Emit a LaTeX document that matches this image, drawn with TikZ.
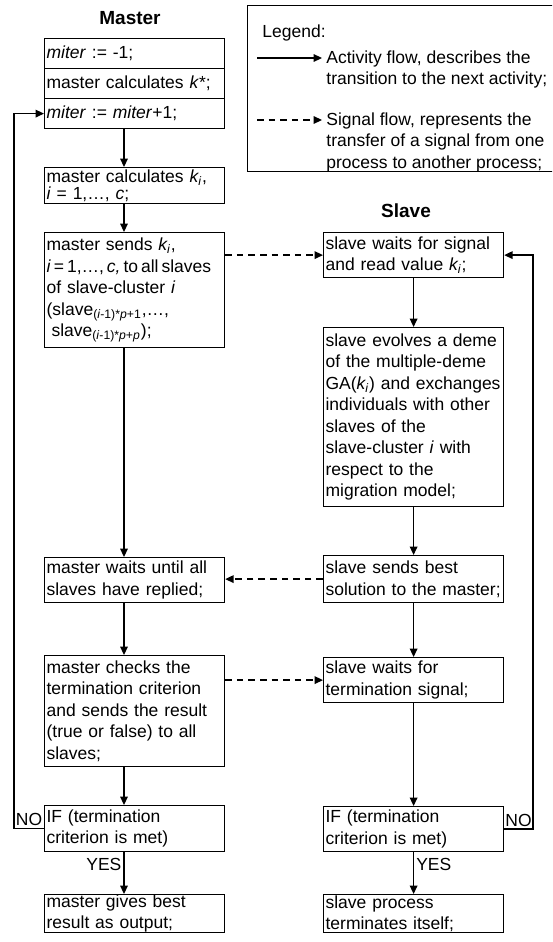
\documentclass[tikz,border=0pt]{standalone}
\usepackage{fontspec}
\setmainfont{Liberation Sans}
\usetikzlibrary{arrows.meta,positioning}

\begin{document}
\begin{tikzpicture}[x=0.5pt,y=-0.5pt,font=\fontsize{8.75pt}{10.75pt}\selectfont,
  >={Triangle[length=4.2pt,width=3.8pt]},
  box/.style={draw,line width=0.6pt,anchor=north west,text width=88pt,inner xsep=1pt,inner ysep=0pt,align=left},
  ttl/.style={font=\fontsize{9.5pt}{11pt}\selectfont\bfseries},
  flow/.style={->,line width=0.65pt},
  sig/.style={->,line width=0.65pt,dash pattern=on 3.3pt off 2.5pt},
  lbl/.style={inner sep=1pt}]
  \useasboundingbox (0,0) rectangle (552,942);
  \clip (0,0) rectangle (552,942);

  \node[ttl] (mttl) at (130,18) {Master};
  \node[box,minimum height=15pt] (m1) at (44,38) {\textit{miter} := -1;};
  \node[box,minimum height=15pt] (m2) at (44,68) {master calculates \textit{k}*;};
  \node[box,minimum height=15pt] (m3) at (44,98) {\textit{miter} := \textit{miter}+1;};
  \node[box,minimum height=18pt] (m4) at (44,167) {master calculates \textit{k\textsubscript{i}},\\[-2.5pt]\textit{i} = 1,…, \textit{c};};
  \node[box,minimum height=57.5pt] (m5) at (44,232) {master sends \textit{k\textsubscript{i}},\\\mbox{\spaceskip=0.17em\relax\textit{i} = 1,…, \textit{c,} to all slaves}\\of slave-cluster \textit{i}\\(slave\textsubscript{(\textit{i}-1)*\textit{p}+1},…,\\\hspace*{0.28em}slave\textsubscript{(\textit{i}-1)*\textit{p}+\textit{p}});};
  \node[box,minimum height=22.5pt] (m6) at (44,557) {master waits until all\\slaves have replied;};
  \node[box,minimum height=55.5pt] (m7) at (44,655) {master checks the\\termination criterion\\and sends the result\\(true or false) to all\\slaves;};
  \node[box,minimum height=23pt] (m8) at (44,805) {IF (termination\\criterion is met)};
  \node[box,minimum height=19pt] (m9) at (44,894) {master gives best\\result as output;};

  \node[ttl] (sttl) at (406,211) {Slave};
  \node[box,minimum height=22.5pt] (s1) at (323,232) {slave waits for signal\\and read value \textit{k\textsubscript{i}};};
  \node[box,minimum height=89.5pt] (s2) at (323,327) {slave evolves a deme\\of the multiple-deme\\GA(\textit{k\textsubscript{i}}) and exchanges\\individuals with other\\slaves of the\\slave-cluster \textit{i} with\\respect to the\\migration model;};
  \node[box,minimum height=23.5pt] (s3) at (323,555) {slave sends best\\solution to the master;};
  \node[box,minimum height=22.5pt] (s4) at (323,657) {slave waits for\\termination signal;};
  \node[box,minimum height=22.5pt] (s5) at (323,806) {IF (termination\\criterion is met)};
  \node[box,minimum height=19pt] (s6) at (323,894) {slave process\\terminates itself;};

  \coordinate (mx) at (124,0);
  \coordinate (lm) at (14,0);
  \coordinate (ls) at (533,0);

  \draw[flow] (m3.south -| mx) -- (m4.north -| mx);
  \draw[flow] (m4.south -| mx) -- (m5.north -| mx);
  \draw[flow] (m5.south -| mx) -- (m6.north -| mx);
  \draw[flow] (m6.south -| mx) -- (m7.north -| mx);
  \draw[flow] (m7.south -| mx) -- (m8.north -| mx);
  \draw[flow] (m8.south -| mx) -- node[lbl,pos=0.3,left] (yesm) {YES} (m9.north -| mx);
  \draw[flow] (m8.west) -- node[lbl,above] (nom) {NO} (m8.west -| lm) |- (m3.west);

  \draw[flow] (s1) -- (s2);
  \draw[flow] (s2) -- (s3);
  \draw[flow] (s3) -- (s4);
  \draw[flow] (s4) -- (s5);
  \draw[flow] (s5) -- node[lbl,pos=0.3,right] (yess) {YES} (s6);
  \draw[flow] (s5.east) -- node[lbl,above] (nos) {NO} (s5.east -| ls) |- (s1.east);

  \draw[sig] (s1.west -| m5.east) -- (s1.west);
  \draw[sig] (s3.west) -- (s3.west -| m6.east);
  \draw[sig] (s4.west -| m7.east) -- (s4.west);

  \node[draw,line width=0.6pt,anchor=north west,minimum width=160pt,minimum height=83pt,inner sep=0pt] (lgd) at (247,5) {};
  \node[anchor=base west,inner sep=0pt] (lgdttl) at (262,37) {Legend:};
  \coordinate (a1) at (257,58);
  \coordinate (a2) at (322,58);
  \draw[flow] (a1) -- (a2);
  \node[anchor=north west,inner sep=0pt,align=left] (atxt) at (326,50) {Activity flow, describes the\\transition to the next activity;};
  \coordinate (b1) at (257,120);
  \coordinate (b2) at (322,120);
  \draw[sig] (b1) -- (b2);
  \node[anchor=north west,inner sep=0pt,align=left] (btxt) at (326,112) {Signal flow, represents the\\transfer of a signal from one\\process to another process;};
\end{tikzpicture}
\end{document}
